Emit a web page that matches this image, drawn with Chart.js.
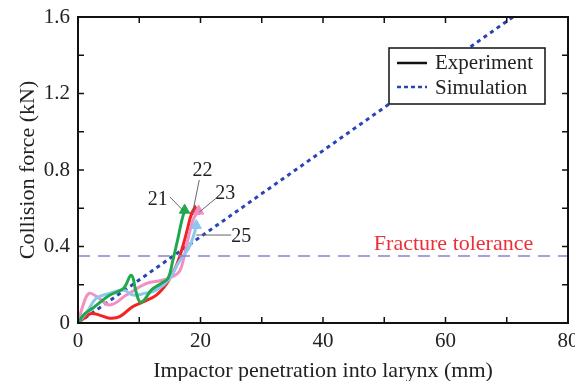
<!DOCTYPE html>
<html>
<head>
<meta charset="utf-8">
<script src="https://cdn.jsdelivr.net/npm/chart.js@4.4.1/dist/chart.umd.min.js"></script>
<style>
  html, body { margin: 0; padding: 0; background: #fff; }
  #wrap { width: 575px; height: 381px; }
</style>
</head>
<body>
<div id="wrap"><canvas id="larynx"></canvas></div>
<script>
// experiment curves (mm, kN)
var x21 = [0, 1, 2.5, 5.2, 7.4, 8.7, 9.5, 10.1, 10.8, 12.0, 13.6, 14.7, 15.5, 16.3, 16.9, 17.4];
var y21 = [0, 0.045, 0.08, 0.146, 0.18, 0.25, 0.16, 0.11, 0.12, 0.173, 0.207, 0.233, 0.33, 0.44, 0.53, 0.59];
var x22 = [0, 1.2, 2.2, 3.6, 5.2, 6.8, 8.9, 10.6, 12.8, 14.5, 16.0, 17.1, 17.9, 18.5, 19.1];
var y22 = [0, 0.03, 0.05, 0.04, 0.025, 0.033, 0.085, 0.11, 0.146, 0.207, 0.295, 0.40, 0.495, 0.565, 0.585];
var x23 = [0, 0.8, 1.8, 3.2, 5.2, 7.9, 11.2, 13.9, 16.3, 17.2, 17.9, 18.8, 19.7];
var y23 = [0, 0.09, 0.155, 0.135, 0.094, 0.146, 0.207, 0.225, 0.26, 0.33, 0.43, 0.54, 0.585];
var x25 = [0, 1.5, 3.0, 5.2, 7.4, 9.0, 10.9, 12.8, 15.0, 16.3, 17.4, 18.2, 19.0, 19.3];
var y25 = [0, 0.06, 0.13, 0.155, 0.172, 0.146, 0.155, 0.172, 0.233, 0.31, 0.36, 0.40, 0.47, 0.51];
// simulation
var xSim = [0, 71];
var ySim = [0, 1.6];
var fractureTolerance = 0.35;

var xTicks = [0, 20, 40, 60, 80];
var yTicks = [0, 0.4, 0.8, 1.2, 1.6];

var serif = '"Liberation Serif", "DejaVu Serif", serif';
Chart.defaults.font.family = serif;
Chart.defaults.color = '#222';

function pts(xs, ys) {
    return xs.map(function (x, i) { return { x: x, y: ys[i] }; });
}
function endMarker(xs) {
    return xs.map(function (x, i) { return i == xs.length - 1 ? 6 : 0; });
}
function expSet(name, xs, ys, color) {
    return {
        label: name,
        data: pts(xs, ys),
        borderColor: color,
        backgroundColor: color,
        borderWidth: 3,
        tension: 0.4,
        pointStyle: 'triangle',
        pointRadius: endMarker(xs),
        pointBorderWidth: 1
    };
}

// inside ticks, frame, labels and legend box
var decor = {
    id: 'decor',
    afterDatasetsDraw: function (chart) {
        var c = chart.ctx, a = chart.chartArea;
        var sx = chart.scales.x, sy = chart.scales.y;
        c.save();
        c.strokeStyle = '#111';
        c.lineWidth = 1.5;
        for (var v = 10; v < 80; v += 10) {
            var px = sx.getPixelForValue(v);
            c.beginPath();
            c.moveTo(px, a.bottom); c.lineTo(px, a.bottom - 6);
            c.moveTo(px, a.top); c.lineTo(px, a.top + 6);
            c.stroke();
        }
        for (var w = 0.2; w < 1.6; w += 0.2) {
            var py = sy.getPixelForValue(w);
            c.beginPath();
            c.moveTo(a.left, py); c.lineTo(a.left + 6, py);
            c.moveTo(a.right, py); c.lineTo(a.right - 6, py);
            c.stroke();
        }
        c.lineWidth = 2;
        c.strokeRect(a.left, a.top, a.right - a.left, a.bottom - a.top);

        // fracture tolerance label
        c.fillStyle = '#ec3038';
        c.font = '22px ' + serif;
        c.textAlign = 'left';
        c.textBaseline = 'alphabetic';
        c.fillText('Fracture tolerance', sx.getPixelForValue(48.3), sy.getPixelForValue(0.38));

        // specimen labels with leader lines
        c.fillStyle = '#222';
        c.strokeStyle = '#666';
        c.lineWidth = 1;
        c.font = '20px ' + serif;
        var notes = [
            ['21', 11.4, 0.617, 15.0, 0.659, 17.1, 0.59],
            ['22', 18.7, 0.769, 19.8, 0.748, 18.7, 0.575],
            ['23', 22.4, 0.648, 22.8, 0.659, 19.8, 0.58],
            ['25', 25.0, 0.424, 25.0, 0.46, 19.3, 0.46]
        ];
        notes.forEach(function (n) {
            c.fillText(n[0], sx.getPixelForValue(n[1]), sy.getPixelForValue(n[2]));
            c.beginPath();
            c.moveTo(sx.getPixelForValue(n[3]), sy.getPixelForValue(n[4]));
            c.lineTo(sx.getPixelForValue(n[5]), sy.getPixelForValue(n[6]));
            c.stroke();
        });

        // legend box
        var lx = a.left + 311, ly = a.top + 31, lw = 156, lh = 56;
        c.fillStyle = '#fff';
        c.fillRect(lx, ly, lw, lh);
        c.strokeStyle = '#111';
        c.lineWidth = 1.5;
        c.strokeRect(lx, ly, lw, lh);
        c.lineWidth = 2.5;
        c.beginPath();
        c.moveTo(lx + 8, ly + 15); c.lineTo(lx + 38, ly + 15);
        c.stroke();
        c.strokeStyle = '#2a44b8';
        c.setLineDash([4, 3]);
        c.beginPath();
        c.moveTo(lx + 8, ly + 39); c.lineTo(lx + 38, ly + 39);
        c.stroke();
        c.setLineDash([]);
        c.fillStyle = '#222';
        c.font = '21px ' + serif;
        c.textBaseline = 'middle';
        c.fillText('Experiment', lx + 46, ly + 15);
        c.fillText('Simulation', lx + 46, ly + 40);
        c.restore();
    }
};

var ctx = document.getElementById('larynx');
new Chart(ctx, {
    type: 'line',
    data: {
        datasets: [
            {
                label: 'Fracture tolerance',
                data: [{ x: 0, y: fractureTolerance }, { x: 80, y: fractureTolerance }],
                borderColor: '#8a82d0',
                borderWidth: 1.5,
                borderDash: [12, 8],
                pointRadius: 0
            },
            expSet('21', x21, y21, '#1fa84c'),
            expSet('25', x25, y25, '#8ec6f0'),
            expSet('23', x23, y23, '#f290c4'),
            expSet('22', x22, y22, '#f22424'),
            {
                label: 'Simulation',
                data: pts(xSim, ySim),
                borderColor: '#2a44b8',
                borderWidth: 3,
                borderDash: [4, 4],
                pointRadius: 0
            }
        ]
    },
    options: {
        responsive: true,
        maintainAspectRatio: false,
        animation: false,
        layout: { padding: { top: 17, right: 6, left: 0, bottom: 0 } },
        plugins: {
            legend: { display: false },
            tooltip: { enabled: false }
        },
        scales: {
            x: {
                type: 'linear',
                min: 0,
                max: 80,
                afterBuildTicks: function (s) { s.ticks = xTicks.map(function (v) { return { value: v }; }); },
                afterFit: function (s) { s.height = 58; s.paddingLeft = 0; s.paddingRight = 0; },
                grid: { display: false, drawTicks: false },
                border: { display: false },
                ticks: { font: { size: 21 }, padding: 6, color: '#222' },
                title: { display: true, text: 'Impactor penetration into larynx (mm)', font: { size: 22 }, color: '#222', padding: { top: 0, bottom: -3 } }
            },
            y: {
                min: 0,
                max: 1.6,
                afterBuildTicks: function (s) { s.ticks = yTicks.map(function (v) { return { value: v }; }); },
                afterFit: function (s) { s.width = 78; s.paddingTop = 0; s.paddingBottom = 0; },
                grid: { display: false, drawTicks: false },
                border: { display: false },
                ticks: {
                    font: { size: 21 },
                    padding: 8,
                    color: '#222',
                    callback: function (v) { return v == 0 ? '0' : v.toFixed(1); }
                },
                title: { display: true, text: 'Collision force (kN)', font: { size: 22 }, color: '#222', padding: { top: 15, bottom: 0 } }
            }
        }
    },
    plugins: [decor]
});
</script>
</body>
</html>
